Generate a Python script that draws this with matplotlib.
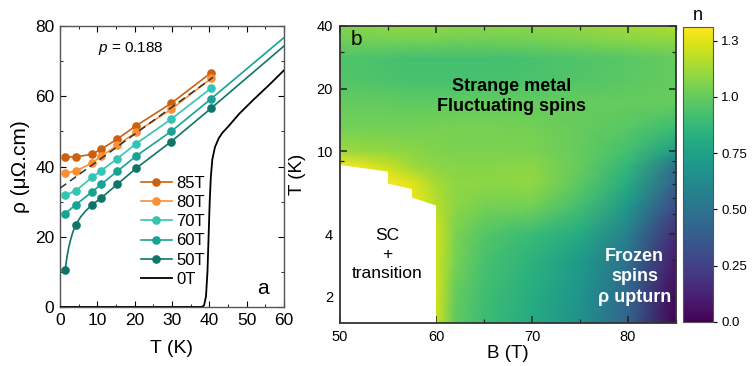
import numpy as np
import matplotlib
matplotlib.use("Agg")
import matplotlib.pyplot as plt
from matplotlib.lines import Line2D
from matplotlib.ticker import MultipleLocator, FixedLocator, NullFormatter, FixedFormatter, LogLocator

plt.rcParams['font.family'] = ['Liberation Sans', 'DejaVu Sans']
plt.rcParams['mathtext.fontset'] = 'custom'
plt.rcParams['mathtext.it'] = 'Liberation Sans:italic'
plt.rcParams['mathtext.rm'] = 'Liberation Sans'

# ---------------- Panel a data ----------------
T_pts = [1.4, 4.2, 8.6, 11.0, 15.3, 20.4, 29.8, 40.5]
rho_85 = [42.8, 42.7, 43.5, 44.9, 47.8, 51.6, 58.0, 66.7]
rho_80 = [38.1, 38.7, 41.0, 42.9, 46.0, 49.8, 56.3, 65.1]
rho_70 = [31.8, 33.1, 36.9, 38.8, 42.2, 46.5, 53.5, 62.3]
rho_60 = [26.6, 29.1, 32.8, 34.9, 38.6, 43.0, 50.0, 59.3]
rho_50 = [10.6, 23.4, 29.1, 31.0, 34.9, 39.5, 47.1, 56.6]

T60_line = [1.4, 4.2, 8.6, 11.0, 15.3, 20.4, 29.8, 40.5, 60.0]
rho60_line = [26.6, 29.1, 32.8, 34.9, 38.6, 43.0, 50.0, 59.3, 76.7]
T50_line = [1.4, 1.8, 2.3, 2.8, 3.4, 4.2, 5.5, 7.0, 8.6, 11.0, 15.3, 20.4, 29.8, 40.5, 60.0]
rho50_line = [10.6, 13.8, 16.8, 19.0, 21.2, 23.4, 25.6, 27.5, 29.1, 31.0, 34.9, 39.5, 47.1, 56.6, 74.3]

T_0T = [0, 10, 20, 30, 36, 38.0, 38.6, 39.1, 39.5, 39.8, 40.1, 40.4, 40.8, 41.5, 42.5,
        43.5, 45, 48, 52, 56, 60]
rho_0T = [0, 0, 0, 0, 0, 0, 0.5, 3, 10, 20, 30, 37, 42, 45.5, 48, 49.6, 51.3, 55, 59.2, 63.2, 67.4]

T_fit = [0, 41]
rho_fit = [33.8, 65.4]

labels_a = ['85T', '80T', '70T', '60T', '50T', '0T']
colors_a = ['#cc600f', '#fb8f35', '#33c5b2', '#16a394', '#0f7568', 'black']

# ---------------- Panel b data ----------------
B_grid = [50, 55, 57.5, 60, 62, 65, 70, 75, 80, 85]
T_grid = [1.5, 2, 3, 4, 5.5, 7, 8.5, 10, 13, 17, 22, 28, 34, 40]
n_rows = [
    [1.30, 1.30, 1.30, 1.22, 0.99, 0.90, 0.80, 0.66, 0.41, 0.00],  # 1.5
    [1.30, 1.30, 1.30, 1.22, 1.00, 0.91, 0.81, 0.68, 0.43, 0.03],  # 2
    [1.30, 1.30, 1.30, 1.22, 1.04, 0.93, 0.84, 0.72, 0.48, 0.09],  # 3
    [1.30, 1.30, 1.30, 1.22, 1.05, 0.96, 0.89, 0.80, 0.56, 0.16],  # 4
    [1.31, 1.31, 1.28, 1.17, 1.08, 1.04, 1.03, 0.92, 0.70, 0.30],  # 5.5
    [1.31, 1.30, 1.25, 1.14, 1.09, 1.08, 1.09, 0.98, 0.80, 0.40],  # 7
    [1.31, 1.20, 1.12, 1.08, 1.07, 1.07, 1.08, 1.00, 0.86, 0.48],  # 8.5
    [1.12, 1.10, 1.08, 1.06, 1.05, 1.05, 1.05, 1.00, 0.92, 0.72],  # 10
    [1.03, 1.03, 1.03, 1.04, 1.04, 1.04, 1.03, 1.00, 0.97, 0.90],  # 13
    [1.00, 1.00, 0.99, 0.99, 0.99, 1.00, 1.00, 1.00, 1.00, 1.00],  # 17
    [0.96, 0.94, 0.93, 0.93, 0.93, 0.93, 0.94, 0.96, 0.98, 1.00],  # 22
    [0.95, 0.93, 0.92, 0.92, 0.92, 0.92, 0.93, 0.95, 0.97, 1.00],  # 28
    [1.02, 1.03, 1.03, 1.03, 1.02, 1.02, 1.03, 1.05, 1.07, 1.09],  # 34
    [1.06, 1.09, 1.10, 1.09, 1.08, 1.08, 1.08, 1.10, 1.13, 1.15],  # 40
]
B_sc = [50, 55, 55, 57.5, 57.5, 60, 60, 50]
T_sc = [8.6, 8.0, 7.0, 6.6, 6.0, 5.5, 1.5, 1.5]

cbar_ticks = [0.0, 0.25, 0.5, 0.75, 1.0, 1.25]
cbar_labels = ['0.0', '0.25', '0.50', '0.75', '1.0', '1.3']

# ---------------- Figure ----------------
fig = plt.figure(figsize=(7.56, 3.66), dpi=100)
axa = fig.add_axes([60/756, 59/366, 224/756, 281/366])
axb = fig.add_axes([340/756, 43/366, 336/756, 297/366])
cax = fig.add_axes([683/756, 44/366, 30/756, 295/366])

ms = 5.2
lw = 1.2
series = [rho_85, rho_80, rho_70]
for rho, c in zip(series, colors_a[:3]):
    axa.plot(T_pts, rho, '-o', color=c, ms=ms, lw=lw, zorder=3)
axa.plot(T60_line, rho60_line, '-', color=colors_a[3], lw=lw, zorder=3)
axa.plot(T_pts, rho_60, 'o', color=colors_a[3], ms=ms, zorder=3)
axa.plot(T50_line, rho50_line, '-', color=colors_a[4], lw=lw, zorder=3)
axa.plot(T_pts, rho_50, 'o', color=colors_a[4], ms=ms, zorder=3)
axa.plot(T_0T, rho_0T, '-', color='black', lw=1.3, zorder=3)
axa.plot(T_fit, rho_fit, '--', color='#333333', lw=1.1, dashes=(5, 3), zorder=4)

handles = []
for lab, c in zip(labels_a, colors_a):
    if lab == '0T':
        handles.append(Line2D([], [], color=c, lw=1.3))
    else:
        handles.append(Line2D([], [], color=c, lw=lw, marker='o', ms=ms))
axa.legend(handles, labels_a, loc='upper left', bbox_to_anchor=(0.33, 0.49),
           frameon=False, fontsize=12, handlelength=1.9, labelspacing=0.25,
           handletextpad=0.25, borderaxespad=0)

axa.set_xlim(0, 60)
axa.set_ylim(0, 80)
axa.xaxis.set_major_locator(MultipleLocator(10))
axa.xaxis.set_minor_locator(MultipleLocator(5))
axa.yaxis.set_major_locator(MultipleLocator(20))
axa.yaxis.set_minor_locator(MultipleLocator(10))
axa.tick_params(which='both', direction='in', top=True, right=True, labelsize=12.5, pad=4)
axa.tick_params(which='major', length=4)
axa.tick_params(which='minor', length=2.5)
axa.set_xlabel('T (K)', fontsize=14, labelpad=9)
axa.set_ylabel('ρ (μΩ.cm)', fontsize=15, labelpad=4)
axa.text(10.2, 73.5, '$p$ = 0.188', fontsize=11, va='center', ha='left')
axa.text(54.4, 5.4, 'a', fontsize=15, va='center', ha='center')
for s in axa.spines.values():
    s.set_color('#555555')
    s.set_linewidth(1.0)

# Panel b
Bm, Tm = np.meshgrid(B_grid, T_grid)
N = np.array(n_rows)
mesh = axb.pcolormesh(Bm, Tm, N, shading='gouraud', cmap='viridis', vmin=0, vmax=1.31,
                      rasterized=True)
axb.fill(B_sc, T_sc, color='white', zorder=2, lw=0)
axb.set_yscale('log')
axb.set_xlim(50, 85)
axb.set_ylim(1.5, 40)
axb.yaxis.set_major_locator(FixedLocator([2, 4, 10, 20, 40]))
axb.yaxis.set_major_formatter(FixedFormatter(['2', '4', '10', '20', '40']))
axb.yaxis.set_minor_locator(LogLocator(base=10, subs=np.arange(1, 10)))
axb.yaxis.set_minor_formatter(NullFormatter())
axb.xaxis.set_major_locator(MultipleLocator(10))
axb.xaxis.set_minor_locator(MultipleLocator(5))
axb.tick_params(which='both', direction='in', top=True, right=True, labelsize=10.5, pad=5,
                color='#222222')
axb.tick_params(which='major', length=5, width=1.1)
axb.tick_params(which='minor', length=3, width=0.9)
axb.set_xlabel('B (T)', fontsize=13.5, labelpad=1)
axb.set_ylabel('T (K)', fontsize=13.5, labelpad=8)
for s in axb.spines.values():
    s.set_color('#333333')
    s.set_linewidth(1.3)
    s.set_zorder(5)

axb.text(51.7, 34.5, 'b', fontsize=15, va='center', ha='center', zorder=6)
axb.text(67.9, 18.3, 'Strange metal\nFluctuating spins', fontsize=13, fontweight='bold',
         ha='center', va='center', linespacing=1.25, zorder=6)
axb.text(54.9, 3.2, 'SC\n+\ntransition', fontsize=12.5, ha='center', va='center',
         linespacing=1.3, zorder=6)
axb.text(80.7, 2.5, 'Frozen\nspins\nρ upturn', fontsize=13, fontweight='bold', color='white',
         ha='center', va='center', linespacing=1.25, zorder=6)

cb = fig.colorbar(mesh, cax=cax)
cb.set_ticks(cbar_ticks)
cb.set_ticklabels(cbar_labels)
cb.ax.tick_params(labelsize=9.5, direction='out', length=3, pad=3)
cb.outline.set_edgecolor('#555555')
fig.text(698/756, 1 - 15/366, 'n', fontsize=13, ha='center', va='center')

fig.savefig('out.png', dpi=100)
